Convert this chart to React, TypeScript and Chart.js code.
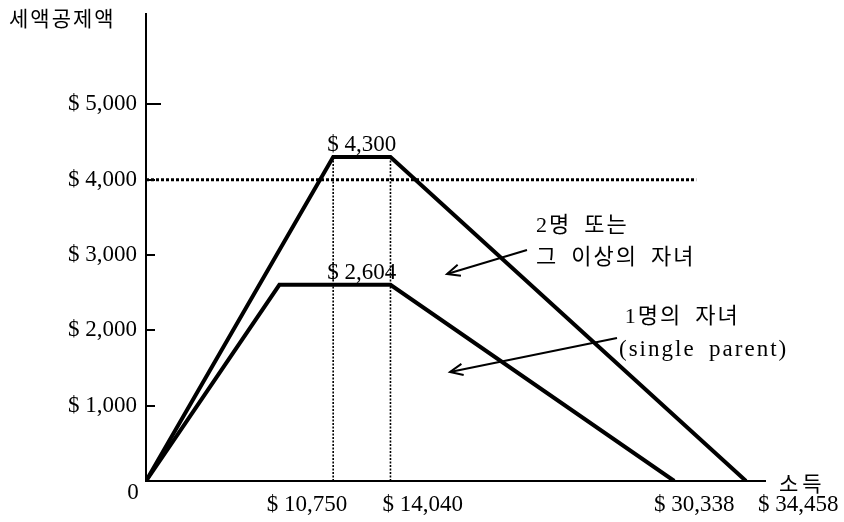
import React, { useEffect, useRef } from "react";
import { Chart, registerables } from "chart.js";

Chart.register(...registerables);

// ---------------- data ----------------
const incomeTickValues = [10750, 14040, 30338, 34458];
const creditTickValues = [1000, 2000, 3000, 4000, 5000];
const twoChildIncome = [0, 10750, 14040, 34458];
const twoChildCredit = [0, 4300, 4300, 0];
const oneChildIncome = [0, 7660, 14040, 30338];
const oneChildCredit = [0, 2604, 2604, 0];
const guideIncome = [0, 31600];
const guideCredit = [4000, 4000];
const plateauIncomeRange = [10750, 14040];
const plateauCredits = [4300, 2604];
const incomeMax = 35550;
const creditMax = 6200;

const yTitle = "세액공제액";
const xTitle = "소득";
const zeroLabel = "0";
const twoChildLabel = ["2명 또는", "그 이상의 자녀"];
const oneChildLabel = ["1명의 자녀", "(single parent)"];

// ---------------- layout / style ----------------
const W = 844;
const H = 522;
const SERIF = '"Liberation Serif", "Noto Sans CJK KR", serif';
const SANS_KR = '"Noto Sans CJK KR", "Noto Sans", sans-serif';
const MIXED_KR = '"Liberation Serif", "Noto Sans CJK KR", serif';

// per x-tick label placement (align, pixel shift)
const xLabelPlacement = [
  { align: "right", dx: 14 },
  { align: "left", dx: -8 },
  { align: "center", dx: 20 },
  { align: "left", dx: 12 },
];

// annotation anchors in data space
const annotations = [
  {
    lines: twoChildLabel,
    textX: [22400, 22400],
    textY: [3380, 2960],
    from: { x: 21880, y: 3067 },
    to: { x: 17290, y: 2748 },
  },
  {
    lines: oneChildLabel,
    textX: [27500, 27165],
    textY: [2180, 1740],
    from: { x: 27050, y: 1899 },
    to: { x: 17460, y: 1447 },
  },
];

const fmtMoney = (v: number) => "$ " + v.toLocaleString("en-US");
const pts = (xs: number[], ys: number[]) => xs.map((x, i) => ({ x, y: ys[i] }));

function drawText(
  ctx: CanvasRenderingContext2D,
  text: string,
  x: number,
  y: number,
  font: string,
  align: CanvasTextAlign,
  baseline: CanvasTextBaseline,
  spacing = 0
) {
  ctx.font = font;
  ctx.textAlign = align;
  ctx.textBaseline = baseline;
  (ctx as any).letterSpacing = spacing + "px";
  ctx.fillText(text, x, y);
  (ctx as any).letterSpacing = "0px";
}

function drawArrow(ctx: CanvasRenderingContext2D, x1: number, y1: number, x2: number, y2: number) {
  ctx.lineWidth = 2;
  ctx.beginPath();
  ctx.moveTo(x1, y1);
  ctx.lineTo(x2, y2);
  ctx.stroke();
  const ang = Math.atan2(y1 - y2, x1 - x2);
  const len = 14;
  const spread = 0.42;
  ctx.beginPath();
  ctx.moveTo(x2 + len * Math.cos(ang + spread), y2 + len * Math.sin(ang + spread));
  ctx.lineTo(x2, y2);
  ctx.lineTo(x2 + len * Math.cos(ang - spread), y2 + len * Math.sin(ang - spread));
  ctx.stroke();
}

const overlayPlugin = {
  id: "overlay",
  afterDraw(chart: any) {
    const { ctx, chartArea, scales } = chart;
    const xs = scales.x;
    const ys = scales.y;
    const px = (v: number) => xs.getPixelForValue(v);
    const py = (v: number) => ys.getPixelForValue(v);
    ctx.save();
    ctx.fillStyle = "#000";
    ctx.strokeStyle = "#000";

    // inward y tick marks
    ctx.lineWidth = 2;
    ys.ticks.forEach((t: any, i: number) => {
      const len = i === ys.ticks.length - 1 ? 15 : 9;
      const y = Math.round(py(t.value));
      ctx.beginPath();
      ctx.moveTo(chartArea.left, y);
      ctx.lineTo(chartArea.left + len, y);
      ctx.stroke();
    });

    // origin label
    drawText(ctx, zeroLabel, chartArea.left - 13, chartArea.bottom + 12, `23px ${SERIF}`, "center", "middle");

    // x tick labels
    xs.ticks.forEach((t: any, i: number) => {
      const p = xLabelPlacement[i] || { align: "center", dx: 0 };
      drawText(
        ctx,
        fmtMoney(t.value),
        px(t.value) + p.dx,
        chartArea.bottom + 24,
        `23px ${SERIF}`,
        p.align as CanvasTextAlign,
        "middle"
      );
    });

    // plateau value labels
    const midX = (px(plateauIncomeRange[0]) + px(plateauIncomeRange[1])) / 2;
    plateauCredits.forEach((v) => {
      drawText(ctx, fmtMoney(v), midX, py(v) - 6, `23px ${SERIF}`, "center", "alphabetic");
    });

    // axis titles
    drawText(ctx, yTitle, 9, 18, `21px ${SANS_KR}`, "left", "middle", 2);
    drawText(ctx, xTitle, chartArea.right + 14, chartArea.bottom + 2, `21px ${SANS_KR}`, "left", "middle", 4);

    // annotations
    annotations.forEach((a) => {
      a.lines.forEach((line, i) => {
        const isLatin = /^[\x00-\x7f]+$/.test(line);
        drawText(
          ctx,
          line.replace(/ /g, "\u2002"),
          px(a.textX[i]),
          py(a.textY[i]),
          isLatin ? `23px ${SERIF}` : `22px ${MIXED_KR}`,
          "left",
          "middle",
          isLatin ? 2 : 2
        );
      });
      drawArrow(ctx, px(a.from.x), py(a.from.y), px(a.to.x), py(a.to.y));
    });

    ctx.restore();
  },
};

export default function App() {
  const canvasRef = useRef<HTMLCanvasElement | null>(null);

  useEffect(() => {
    document.body.style.margin = "0";
    const canvas = canvasRef.current;
    if (!canvas) return;

    const chart = new Chart(canvas, {
      type: "line",
      data: {
        datasets: [
          {
            label: twoChildLabel.join(" "),
            data: pts(twoChildIncome, twoChildCredit),
            borderColor: "#000",
            borderWidth: 4,
            pointRadius: 0,
            tension: 0,
            fill: false,
          },
          {
            label: oneChildLabel.join(" "),
            data: pts(oneChildIncome, oneChildCredit),
            borderColor: "#000",
            borderWidth: 4,
            pointRadius: 0,
            tension: 0,
            fill: false,
          },
          {
            label: "guide",
            data: pts(guideIncome, guideCredit),
            borderColor: "#000",
            borderWidth: 3,
            borderDash: [3, 2],
            pointRadius: 0,
            fill: false,
          },
          {
            label: "v1",
            data: pts([plateauIncomeRange[0], plateauIncomeRange[0]], [0, plateauCredits[0]]),
            borderColor: "#000",
            borderWidth: 1.6,
            borderDash: [2, 1.5],
            pointRadius: 0,
            fill: false,
          },
          {
            label: "v2",
            data: pts([plateauIncomeRange[1], plateauIncomeRange[1]], [0, plateauCredits[0]]),
            borderColor: "#000",
            borderWidth: 1.6,
            borderDash: [2, 1.5],
            pointRadius: 0,
            fill: false,
          },
        ],
      },
      options: {
        animation: false,
        responsive: false,
        maintainAspectRatio: false,
        devicePixelRatio: 1,
        layout: { padding: { left: 0, right: 79, top: 14, bottom: 0 } },
        plugins: {
          legend: { display: false },
          tooltip: { enabled: false },
        },
        scales: {
          x: {
            type: "linear",
            min: 0,
            max: incomeMax,
            afterBuildTicks: (s: any) => {
              s.ticks = incomeTickValues.map((v) => ({ value: v }));
            },
            afterFit: (s: any) => {
              s.height = 41;
              s.paddingLeft = 0;
              s.paddingRight = 0;
            },
            grid: { display: false, drawTicks: false },
            border: { display: true, color: "#000", width: 2 },
            ticks: { display: false },
          },
          y: {
            type: "linear",
            min: 0,
            max: creditMax,
            afterBuildTicks: (s: any) => {
              s.ticks = creditTickValues.map((v) => ({ value: v }));
            },
            afterFit: (s: any) => {
              s.width = 146;
              s.paddingTop = 0;
              s.paddingBottom = 0;
            },
            grid: { display: false, drawTicks: false },
            border: { display: true, color: "#000", width: 2 },
            ticks: {
              autoSkip: false,
              padding: 9,
              color: "#000",
              font: { family: SERIF, size: 23 },
              callback: (v: any) => fmtMoney(Number(v)),
            },
          },
        },
      } as any,
      plugins: [overlayPlugin],
    });

    return () => chart.destroy();
  }, []);

  return (
    <div style={{ width: W, height: H, position: "relative", background: "#fff" }}>
      <canvas ref={canvasRef} width={W} height={H} style={{ display: "block" }} />
    </div>
  );
}
